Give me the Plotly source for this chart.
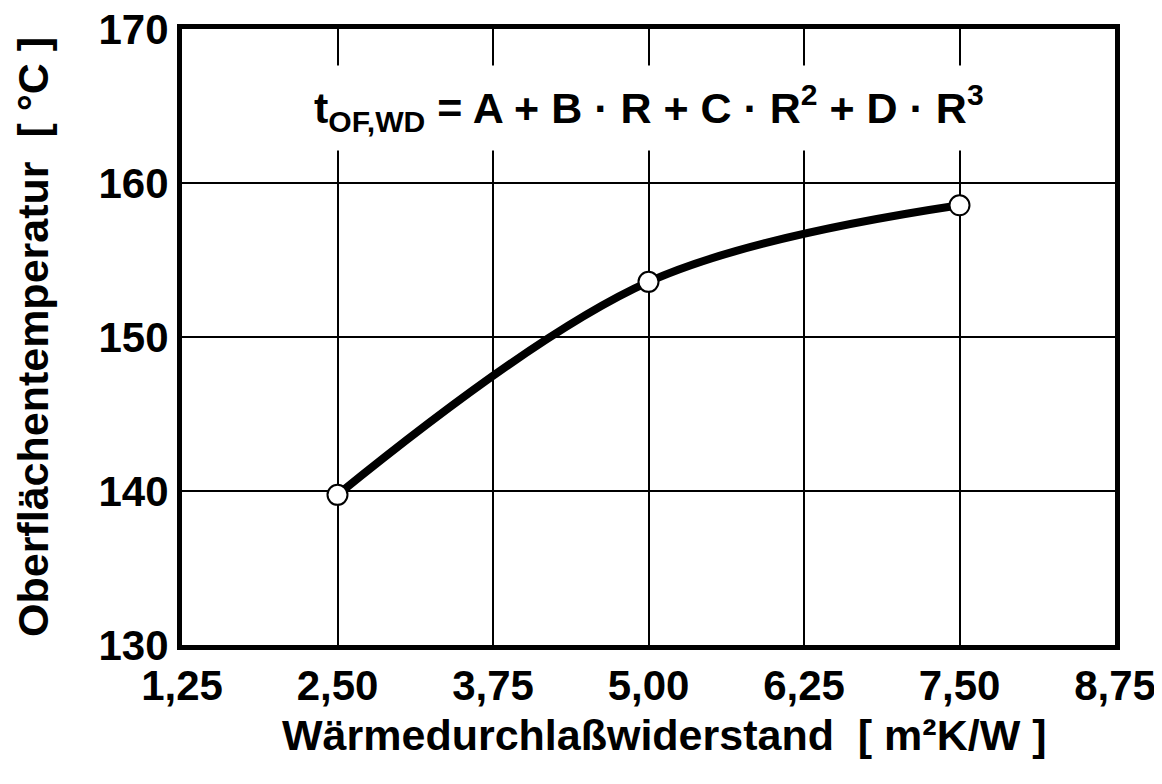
import plotly.graph_objects as go

# Data
r_values = [2.50, 5.00, 7.50]
t_values = [139.75, 153.58, 158.55]
x_ticks = [1.25, 2.50, 3.75, 5.00, 6.25, 7.50, 8.75]
x_tick_labels = ["1,25", "2,50", "3,75", "5,00", "6,25", "7,50", "8,75"]
y_ticks = [130, 140, 150, 160, 170]
y_tick_labels = ["130", "140", "150", "160", "170"]

FONT = "Liberation Sans, Arial, sans-serif"

fig = go.Figure()
fig.add_trace(go.Scatter(
    x=r_values, y=t_values, mode="lines",
    line=dict(color="black", width=8, shape="spline", smoothing=1.0),
    showlegend=False, hoverinfo="skip",
))
fig.add_trace(go.Scatter(
    x=r_values, y=t_values, mode="markers",
    marker=dict(size=20, color="white", line=dict(color="black", width=2)),
    showlegend=False,
))

fig.update_layout(
    width=1162, height=784,
    margin=dict(l=174, r=55, t=21, b=147),
    paper_bgcolor="white", plot_bgcolor="white",
    font=dict(family=FONT, color="black"),
    xaxis=dict(
        range=[1.25, 8.75], tickvals=x_ticks, ticktext=x_tick_labels,
        showgrid=True, gridcolor="black", gridwidth=2,
        showline=True, linecolor="black", linewidth=5, mirror=True,
        ticks="", tickfont=dict(size=42, family=FONT, weight="bold"),
        ticklabelstandoff=0, zeroline=False, automargin=False,
        ticklabeloverflow="allow",
    ),
    yaxis=dict(
        range=[130, 170], tickvals=y_ticks, ticktext=y_tick_labels,
        showgrid=True, gridcolor="black", gridwidth=2,
        showline=True, linecolor="black", linewidth=5, mirror=True,
        ticks="", tickfont=dict(size=42, family=FONT, weight="bold"),
        ticklabelstandoff=0, zeroline=False, automargin=False,
        ticklabeloverflow="allow",
    ),
)

fig.add_annotation(
    x=0.5, y=1.0, xref="paper", yref="paper", yshift=-79,
    text="t<sub>OF,WD</sub> = A + B · R + C · R<sup>2</sup> + D · R<sup>3</sup>",
    showarrow=False, font=dict(size=43, family=FONT, weight="bold"),
    bgcolor="white", borderpad=12, xanchor="center", yanchor="middle",
)
fig.add_annotation(
    x=0.5, y=0, xref="paper", yref="paper", yshift=-90, xshift=16,
    text="Wärmedurchlaßwiderstand  [ m²K/W ]",
    showarrow=False, font=dict(size=43, family=FONT, weight="bold"),
    xanchor="center", yanchor="middle",
)
fig.add_annotation(
    x=0, y=0.5, xref="paper", yref="paper", xshift=-149,
    text="Oberflächentemperatur  [ °C ]", textangle=-90,
    showarrow=False, font=dict(size=43, family=FONT, weight="bold"),
    xanchor="center", yanchor="middle",
)

fig.write_html("out.html")
